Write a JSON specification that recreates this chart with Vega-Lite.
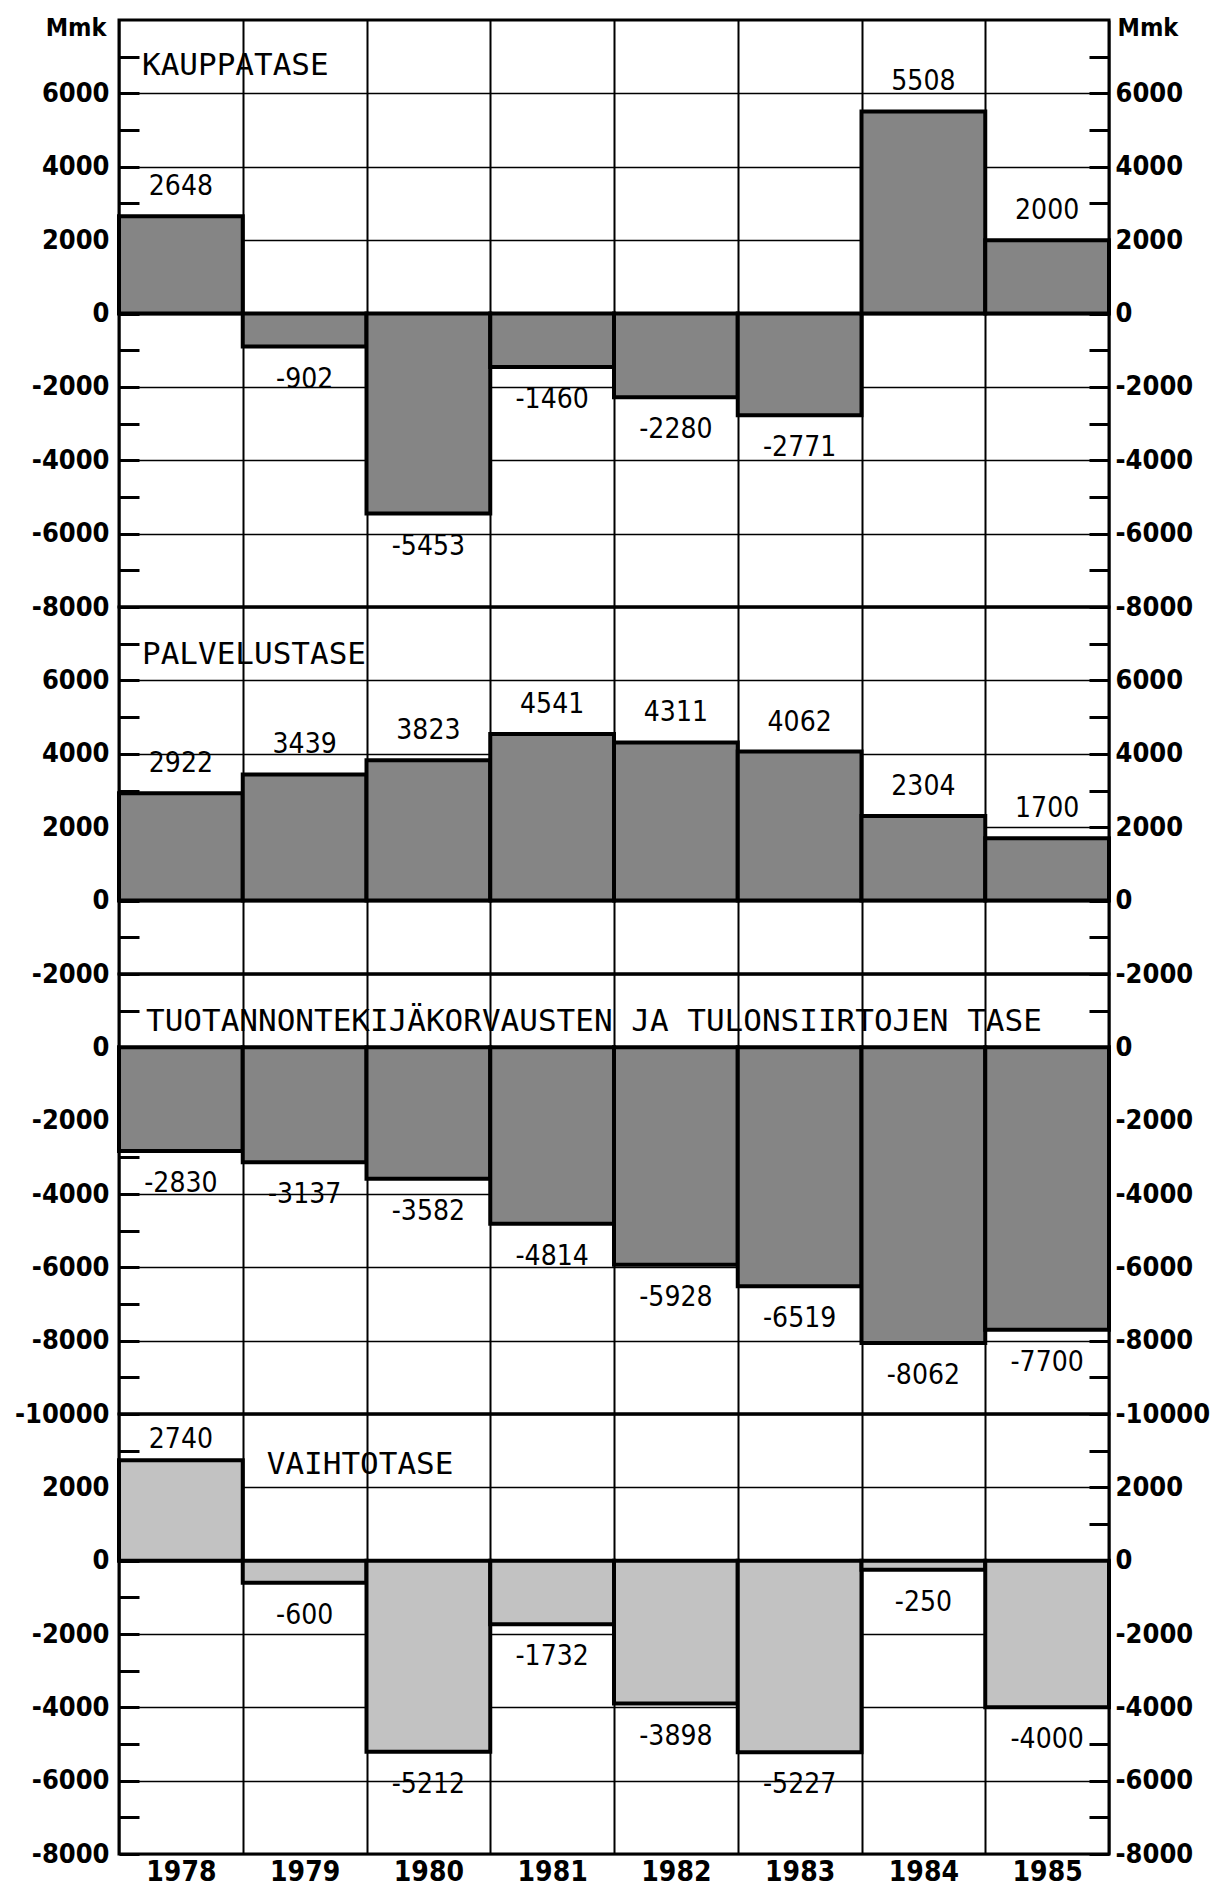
{
  "$schema": "https://vega.github.io/schema/vega-lite/v6.json",
  "padding": {"left": 12, "top": 13, "right": 5, "bottom": 2},
  "bounds": "flush",
  "spacing": 0,
  "background": "white",
  "datasets": {
    "balance": [
      {"panel": "KAUPPATASE", "year": "1978", "value": 2648},
      {"panel": "KAUPPATASE", "year": "1979", "value": -902},
      {"panel": "KAUPPATASE", "year": "1980", "value": -5453},
      {"panel": "KAUPPATASE", "year": "1981", "value": -1460},
      {"panel": "KAUPPATASE", "year": "1982", "value": -2280},
      {"panel": "KAUPPATASE", "year": "1983", "value": -2771},
      {"panel": "KAUPPATASE", "year": "1984", "value": 5508},
      {"panel": "KAUPPATASE", "year": "1985", "value": 2000},
      {"panel": "PALVELUSTASE", "year": "1978", "value": 2922},
      {"panel": "PALVELUSTASE", "year": "1979", "value": 3439},
      {"panel": "PALVELUSTASE", "year": "1980", "value": 3823},
      {"panel": "PALVELUSTASE", "year": "1981", "value": 4541},
      {"panel": "PALVELUSTASE", "year": "1982", "value": 4311},
      {"panel": "PALVELUSTASE", "year": "1983", "value": 4062},
      {"panel": "PALVELUSTASE", "year": "1984", "value": 2304},
      {"panel": "PALVELUSTASE", "year": "1985", "value": 1700},
      {"panel": "TUOTANNONTEKIJÄKORVAUSTEN JA TULONSIIRTOJEN TASE", "year": "1978", "value": -2830},
      {"panel": "TUOTANNONTEKIJÄKORVAUSTEN JA TULONSIIRTOJEN TASE", "year": "1979", "value": -3137},
      {"panel": "TUOTANNONTEKIJÄKORVAUSTEN JA TULONSIIRTOJEN TASE", "year": "1980", "value": -3582},
      {"panel": "TUOTANNONTEKIJÄKORVAUSTEN JA TULONSIIRTOJEN TASE", "year": "1981", "value": -4814},
      {"panel": "TUOTANNONTEKIJÄKORVAUSTEN JA TULONSIIRTOJEN TASE", "year": "1982", "value": -5928},
      {"panel": "TUOTANNONTEKIJÄKORVAUSTEN JA TULONSIIRTOJEN TASE", "year": "1983", "value": -6519},
      {"panel": "TUOTANNONTEKIJÄKORVAUSTEN JA TULONSIIRTOJEN TASE", "year": "1984", "value": -8062},
      {"panel": "TUOTANNONTEKIJÄKORVAUSTEN JA TULONSIIRTOJEN TASE", "year": "1985", "value": -7700},
      {"panel": "VAIHTOTASE", "year": "1978", "value": 2740},
      {"panel": "VAIHTOTASE", "year": "1979", "value": -600},
      {"panel": "VAIHTOTASE", "year": "1980", "value": -5212},
      {"panel": "VAIHTOTASE", "year": "1981", "value": -1732},
      {"panel": "VAIHTOTASE", "year": "1982", "value": -3898},
      {"panel": "VAIHTOTASE", "year": "1983", "value": -5227},
      {"panel": "VAIHTOTASE", "year": "1984", "value": -250},
      {"panel": "VAIHTOTASE", "year": "1985", "value": -4000}
    ]
  },
  "config": {
    "view": {"stroke": "black", "strokeWidth": 3},
    "axis": {
      "labelFont": "DejaVu Sans Condensed, DejaVu Sans",
      "labelFontSize": 27,
      "labelFontWeight": "bold",
      "labelColor": "black",
      "titleFont": "DejaVu Sans Condensed, DejaVu Sans",
      "titleFontSize": 25,
      "titleFontWeight": "bold",
      "titleColor": "black",
      "domain": false,
      "labelOverlap": false,
      "zindex": 1
    },
    "axisY": {
      "tickSize": -20,
      "tickWidth": 3,
      "tickColor": "black",
      "labelExpr": "datum.value % 2000 === 0 ? '' + datum.value : ''"
    },
    "axisX": {
      "grid": true,
      "tickBand": "extent",
      "gridColor": "black",
      "gridWidth": 2,
      "ticks": false,
      "labels": false,
      "title": null
    },
    "text": {"font": "DejaVu Sans Condensed, DejaVu Sans", "fontSize": 28, "color": "black"}
  },
  "vconcat": [
    {
      "width": 990,
      "height": 587,
      "data": {"name": "balance"},
      "resolve": {"axis": {"y": "independent"}},
      "layer": [
        {
          "transform": [{"filter": "datum.panel === 'KAUPPATASE'"}],
          "mark": {"type": "bar", "fill": "#858585", "stroke": "black", "strokeWidth": 4},
          "encoding": {
            "x": {"field": "year", "type": "ordinal", "scale": {"paddingInner": 0, "paddingOuter": 0}},
            "y": {
              "field": "value", "type": "quantitative",
              "scale": {"domain": [-8000, 8000], "nice": false, "zero": false},
              "axis": {
                "orient": "left",
                "values": [-8000, -7000, -6000, -5000, -4000, -3000, -2000, -1000, 0, 1000, 2000, 3000, 4000, 5000, 6000, 7000],
                "title": "Mmk", "titleAngle": 0, "titleAlign": "right", "titleBaseline": "alphabetic", "titleX": -13, "titleY": 15,
                "grid": true, "gridColor": "black", "gridWidth": 1.5,
                "gridOpacity": {"condition": {"test": "datum.value % 2000 !== 0", "value": 0}, "value": 1},
                "labelPadding": 30
              }
            },
            "y2": {"datum": 0}
          }
        },
        {
          "transform": [{"filter": "datum.panel === 'KAUPPATASE' && datum.value >= 0"}],
          "mark": {"type": "text", "baseline": "alphabetic", "dy": -21},
          "encoding": {
            "x": {"field": "year", "type": "ordinal"},
            "y": {"field": "value", "type": "quantitative",
              "axis": {
                "orient": "right",
                "values": [-8000, -7000, -6000, -5000, -4000, -3000, -2000, -1000, 0, 1000, 2000, 3000, 4000, 5000, 6000, 7000],
                "title": "Mmk", "titleAngle": 0, "titleAlign": "left", "titleBaseline": "alphabetic", "titleX": 8, "titleY": 15,
                "grid": false, "labelPadding": 26
              }
            },
            "text": {"field": "value", "type": "nominal"}
          }
        },
        {
          "transform": [{"filter": "datum.panel === 'KAUPPATASE' && datum.value < 0"}],
          "mark": {"type": "text", "baseline": "top", "dy": 19},
          "encoding": {
            "x": {"field": "year", "type": "ordinal"},
            "y": {"field": "value", "type": "quantitative", "axis": null},
            "text": {"field": "value", "type": "nominal"}
          }
        },
        {
          "transform": [{"filter": "datum.panel === 'KAUPPATASE' && datum.year === '1978'"}],
          "mark": {"type": "text", "align": "left", "baseline": "middle", "dx": 23, "font": "DejaVu Sans Mono", "fontSize": 31},
          "encoding": {
            "x": {"field": "year", "type": "ordinal", "bandPosition": 0},
            "y": {"datum": 6750, "type": "quantitative", "axis": null},
            "text": {"field": "panel"}
          }
        }
      ]
    },
    {
      "width": 990,
      "height": 367,
      "data": {"name": "balance"},
      "resolve": {"axis": {"y": "independent"}},
      "layer": [
        {
          "transform": [{"filter": "datum.panel === 'PALVELUSTASE'"}],
          "mark": {"type": "bar", "fill": "#858585", "stroke": "black", "strokeWidth": 4},
          "encoding": {
            "x": {"field": "year", "type": "ordinal", "scale": {"paddingInner": 0, "paddingOuter": 0}},
            "y": {
              "field": "value", "type": "quantitative",
              "scale": {"domain": [-2000, 8000], "nice": false, "zero": false},
              "axis": {
                "orient": "left",
                "values": [-2000, -1000, 0, 1000, 2000, 3000, 4000, 5000, 6000, 7000],
                "title": null,
                "grid": true, "gridColor": "black", "gridWidth": 1.5,
                "gridOpacity": {"condition": {"test": "datum.value % 2000 !== 0", "value": 0}, "value": 1},
                "labelPadding": 30
              }
            },
            "y2": {"datum": 0}
          }
        },
        {
          "transform": [{"filter": "datum.panel === 'PALVELUSTASE' && datum.value >= 0"}],
          "mark": {"type": "text", "baseline": "alphabetic", "dy": -21},
          "encoding": {
            "x": {"field": "year", "type": "ordinal"},
            "y": {"field": "value", "type": "quantitative",
              "axis": {
                "orient": "right",
                "values": [-2000, -1000, 0, 1000, 2000, 3000, 4000, 5000, 6000, 7000],
                "title": null, "grid": false, "labelPadding": 26
              }
            },
            "text": {"field": "value", "type": "nominal"}
          }
        },
        {
          "transform": [{"filter": "datum.panel === 'PALVELUSTASE' && datum.year === '1978'"}],
          "mark": {"type": "text", "align": "left", "baseline": "middle", "dx": 23, "font": "DejaVu Sans Mono", "fontSize": 31},
          "encoding": {
            "x": {"field": "year", "type": "ordinal", "bandPosition": 0},
            "y": {"datum": 6700, "type": "quantitative", "axis": null},
            "text": {"field": "panel"}
          }
        }
      ]
    },
    {
      "width": 990,
      "height": 440,
      "data": {"name": "balance"},
      "resolve": {"axis": {"y": "independent"}},
      "layer": [
        {
          "transform": [{"filter": "datum.panel === 'TUOTANNONTEKIJÄKORVAUSTEN JA TULONSIIRTOJEN TASE'"}],
          "mark": {"type": "bar", "fill": "#858585", "stroke": "black", "strokeWidth": 4},
          "encoding": {
            "x": {"field": "year", "type": "ordinal", "scale": {"paddingInner": 0, "paddingOuter": 0}},
            "y": {
              "field": "value", "type": "quantitative",
              "scale": {"domain": [-10000, 2000], "nice": false, "zero": false},
              "axis": {
                "orient": "left",
                "values": [-10000, -9000, -8000, -7000, -6000, -5000, -4000, -3000, -2000, -1000, 0, 1000],
                "title": null,
                "grid": true, "gridColor": "black", "gridWidth": 1.5,
                "gridOpacity": {"condition": {"test": "datum.value % 2000 !== 0", "value": 0}, "value": 1},
                "labelPadding": 30
              }
            },
            "y2": {"datum": 0}
          }
        },
        {
          "transform": [{"filter": "datum.panel === 'TUOTANNONTEKIJÄKORVAUSTEN JA TULONSIIRTOJEN TASE' && datum.value < 0"}],
          "mark": {"type": "text", "baseline": "top", "dy": 19},
          "encoding": {
            "x": {"field": "year", "type": "ordinal"},
            "y": {"field": "value", "type": "quantitative",
              "axis": {
                "orient": "right",
                "values": [-10000, -9000, -8000, -7000, -6000, -5000, -4000, -3000, -2000, -1000, 0, 1000],
                "title": null, "grid": false, "labelPadding": 26
              }
            },
            "text": {"field": "value", "type": "nominal"}
          }
        },
        {
          "transform": [{"filter": "datum.panel === 'TUOTANNONTEKIJÄKORVAUSTEN JA TULONSIIRTOJEN TASE' && datum.year === '1978'"}],
          "mark": {"type": "text", "align": "left", "baseline": "middle", "dx": 27, "font": "DejaVu Sans Mono", "fontSize": 31},
          "encoding": {
            "x": {"field": "year", "type": "ordinal", "bandPosition": 0},
            "y": {"datum": 700, "type": "quantitative", "axis": null},
            "text": {"field": "panel"}
          }
        }
      ]
    },
    {
      "width": 990,
      "height": 440,
      "data": {"name": "balance"},
      "resolve": {"axis": {"y": "independent"}},
      "layer": [
        {
          "transform": [{"filter": "datum.panel === 'VAIHTOTASE'"}],
          "mark": {"type": "bar", "fill": "#c2c2c2", "stroke": "black", "strokeWidth": 4},
          "encoding": {
            "x": {
              "field": "year", "type": "ordinal", "scale": {"paddingInner": 0, "paddingOuter": 0},
              "axis": {"labels": true, "labelAngle": 0, "labelPadding": 4, "labelBaseline": "top", "labelFontSize": 28}
            },
            "y": {
              "field": "value", "type": "quantitative",
              "scale": {"domain": [-8000, 4000], "nice": false, "zero": false},
              "axis": {
                "orient": "left",
                "values": [-8000, -7000, -6000, -5000, -4000, -3000, -2000, -1000, 0, 1000, 2000, 3000],
                "title": null,
                "grid": true, "gridColor": "black", "gridWidth": 1.5,
                "gridOpacity": {"condition": {"test": "datum.value % 2000 !== 0", "value": 0}, "value": 1},
                "labelPadding": 30
              }
            },
            "y2": {"datum": 0}
          }
        },
        {
          "transform": [{"filter": "datum.panel === 'VAIHTOTASE' && datum.value < 0"}],
          "mark": {"type": "text", "baseline": "top", "dy": 19},
          "encoding": {
            "x": {"field": "year", "type": "ordinal"},
            "y": {"field": "value", "type": "quantitative",
              "axis": {
                "orient": "right",
                "values": [-8000, -7000, -6000, -5000, -4000, -3000, -2000, -1000, 0, 1000, 2000, 3000],
                "title": null, "grid": false, "labelPadding": 26
              }
            },
            "text": {"field": "value", "type": "nominal"}
          }
        },
        {
          "transform": [{"filter": "datum.panel === 'VAIHTOTASE' && datum.value >= 0"}],
          "mark": {"type": "text", "baseline": "alphabetic", "dy": -12},
          "encoding": {
            "x": {"field": "year", "type": "ordinal"},
            "y": {"field": "value", "type": "quantitative", "axis": null},
            "text": {"field": "value", "type": "nominal"}
          }
        },
        {
          "transform": [{"filter": "datum.panel === 'VAIHTOTASE' && datum.year === '1979'"}],
          "mark": {"type": "text", "align": "left", "baseline": "middle", "dx": 24, "font": "DejaVu Sans Mono", "fontSize": 31},
          "encoding": {
            "x": {"field": "year", "type": "ordinal", "bandPosition": 0},
            "y": {"datum": 2600, "type": "quantitative", "axis": null},
            "text": {"field": "panel"}
          }
        }
      ]
    }
  ]
}
